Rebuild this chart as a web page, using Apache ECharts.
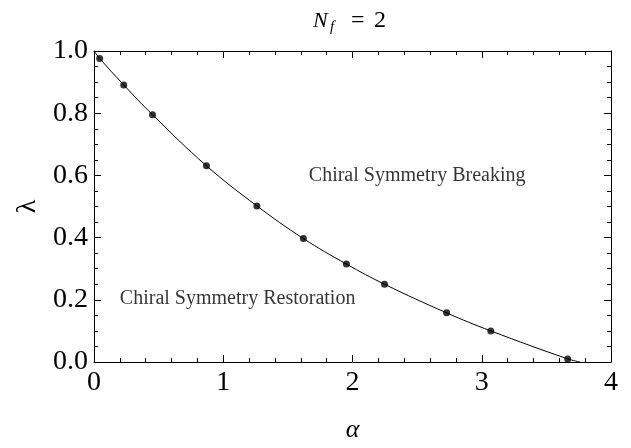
<!DOCTYPE html>
<html>
<head>
<meta charset="utf-8">
<script src="https://cdn.jsdelivr.net/npm/echarts@6/dist/echarts.min.js"></script>
<style>
  html, body { margin: 0; padding: 0; background: #fff; }
  #main { width: 631px; height: 448px; }
</style>
</head>
<body>
<div id="main"></div>
<script>
// 数据点 (alpha, lambda)
var alphaPts = [0.044, 0.23, 0.453, 0.87, 1.26, 1.62, 1.953, 2.248, 2.728, 3.07, 3.665];
var lambdaPts = [0.976, 0.891, 0.795, 0.631, 0.502, 0.397, 0.315, 0.25, 0.158, 0.1, 0.010];
// 曲线两端
var curveStart = [0, 1.0];
var curveEnd = [3.76, 0];
// 区域文字
var regionNames = ['Chiral Symmetry Breaking', 'Chiral Symmetry Restoration'];
var regionPos = [[2.5, 0.6], [0.2, 0.203]];

var xTicks = [0, 1, 2, 3, 4];
var yTicks = [0.0, 0.2, 0.4, 0.6, 0.8, 1.0];

var serif = 'Liberation Serif';

var dots = [];
for (var i = 0; i < alphaPts.length; i++) {
    dots.push([alphaPts[i], lambdaPts[i]]);
}
var curve = [curveStart].concat(dots).concat([curveEnd]);

// 边框轴（上下左右都有刻度）
function frameAxis(pos, isX) {
    return {
        type: 'value',
        position: pos,
        min: isX ? xTicks[0] : yTicks[0],
        max: isX ? xTicks[xTicks.length - 1] : yTicks[yTicks.length - 1],
        interval: isX ? 1 : 0.2,
        axisLine: { show: true, onZero: false, lineStyle: { color: '#000', width: 1 } },
        axisTick: { show: true, inside: true, length: 7, lineStyle: { color: '#000' } },
        minorTick: { show: true, splitNumber: isX ? 5 : 4, length: 4, lineStyle: { color: '#000' } },
        splitLine: { show: false },
        axisLabel: { show: false }
    };
}

var xBottom = frameAxis('bottom', true);
xBottom.axisLabel = {
    show: true, color: '#000', fontFamily: serif, fontSize: 28, margin: 7,
    formatter: function (v) { return String(v); }
};
xBottom.name = 'α';
xBottom.nameLocation = 'middle';
xBottom.nameGap = 55;
xBottom.nameTextStyle = { color: '#000', fontFamily: serif, fontSize: 26, fontStyle: 'italic' };

var yLeft = frameAxis('left', false);
yLeft.axisLabel = {
    show: true, color: '#000', fontFamily: serif, fontSize: 28, margin: 6,
    formatter: function (v) { return v.toFixed(1); }
};
yLeft.name = 'λ';
yLeft.nameLocation = 'middle';
yLeft.nameGap = 52;
yLeft.nameTextStyle = { color: '#000', fontFamily: serif, fontSize: 28 };

var xTop = frameAxis('top', true);
var yRight = frameAxis('right', false);

// 标题 N_f = 2（下标 f 单独放）
function titlePiece(txt, x, y, size, italic) {
    return {
        type: 'text', x: x, y: y,
        style: {
            text: txt, fill: '#000',
            fontFamily: serif, fontSize: size,
            fontStyle: italic ? 'italic' : 'normal', fontWeight: 'normal'
        }
    };
}
var titleGraphic = {
    type: 'group',
    left: 313,
    top: 9,
    children: [
        titlePiece('N', 0, 0, 22, true),
        titlePiece('f', 17, 10, 15, true),
        titlePiece('=', 38, -1, 24, false),
        titlePiece('2', 61, -1, 24, false)
    ]
};

var option = {
    backgroundColor: '#fff',
    animation: false,
    textStyle: { fontFamily: serif },
    graphic: [titleGraphic],
    grid: { left: 94, right: 20, top: 51, bottom: 77, containLabel: false },
    xAxis: [xBottom, xTop],
    yAxis: [yLeft, yRight],
    series: [
        {
            name: 'curve',
            type: 'line',
            data: curve,
            smooth: 0.4,
            showSymbol: false,
            lineStyle: { color: '#000', width: 1 },
            clip: true
        },
        {
            name: 'points',
            type: 'scatter',
            data: dots,
            symbolSize: 7,
            itemStyle: { color: '#000' }
        },
        {
            name: 'labels',
            type: 'scatter',
            symbolSize: 0,
            data: [
                { value: regionPos[0], name: regionNames[0], label: { position: 'inside' } },
                { value: regionPos[1], name: regionNames[1], label: { position: 'right', distance: 0 } }
            ],
            label: {
                show: true,
                formatter: '{b}',
                color: '#000',
                fontFamily: serif,
                fontSize: 20
            }
        }
    ]
};

var myChart = echarts.init(document.getElementById('main'));
myChart.setOption(option);
</script>
</body>
</html>
